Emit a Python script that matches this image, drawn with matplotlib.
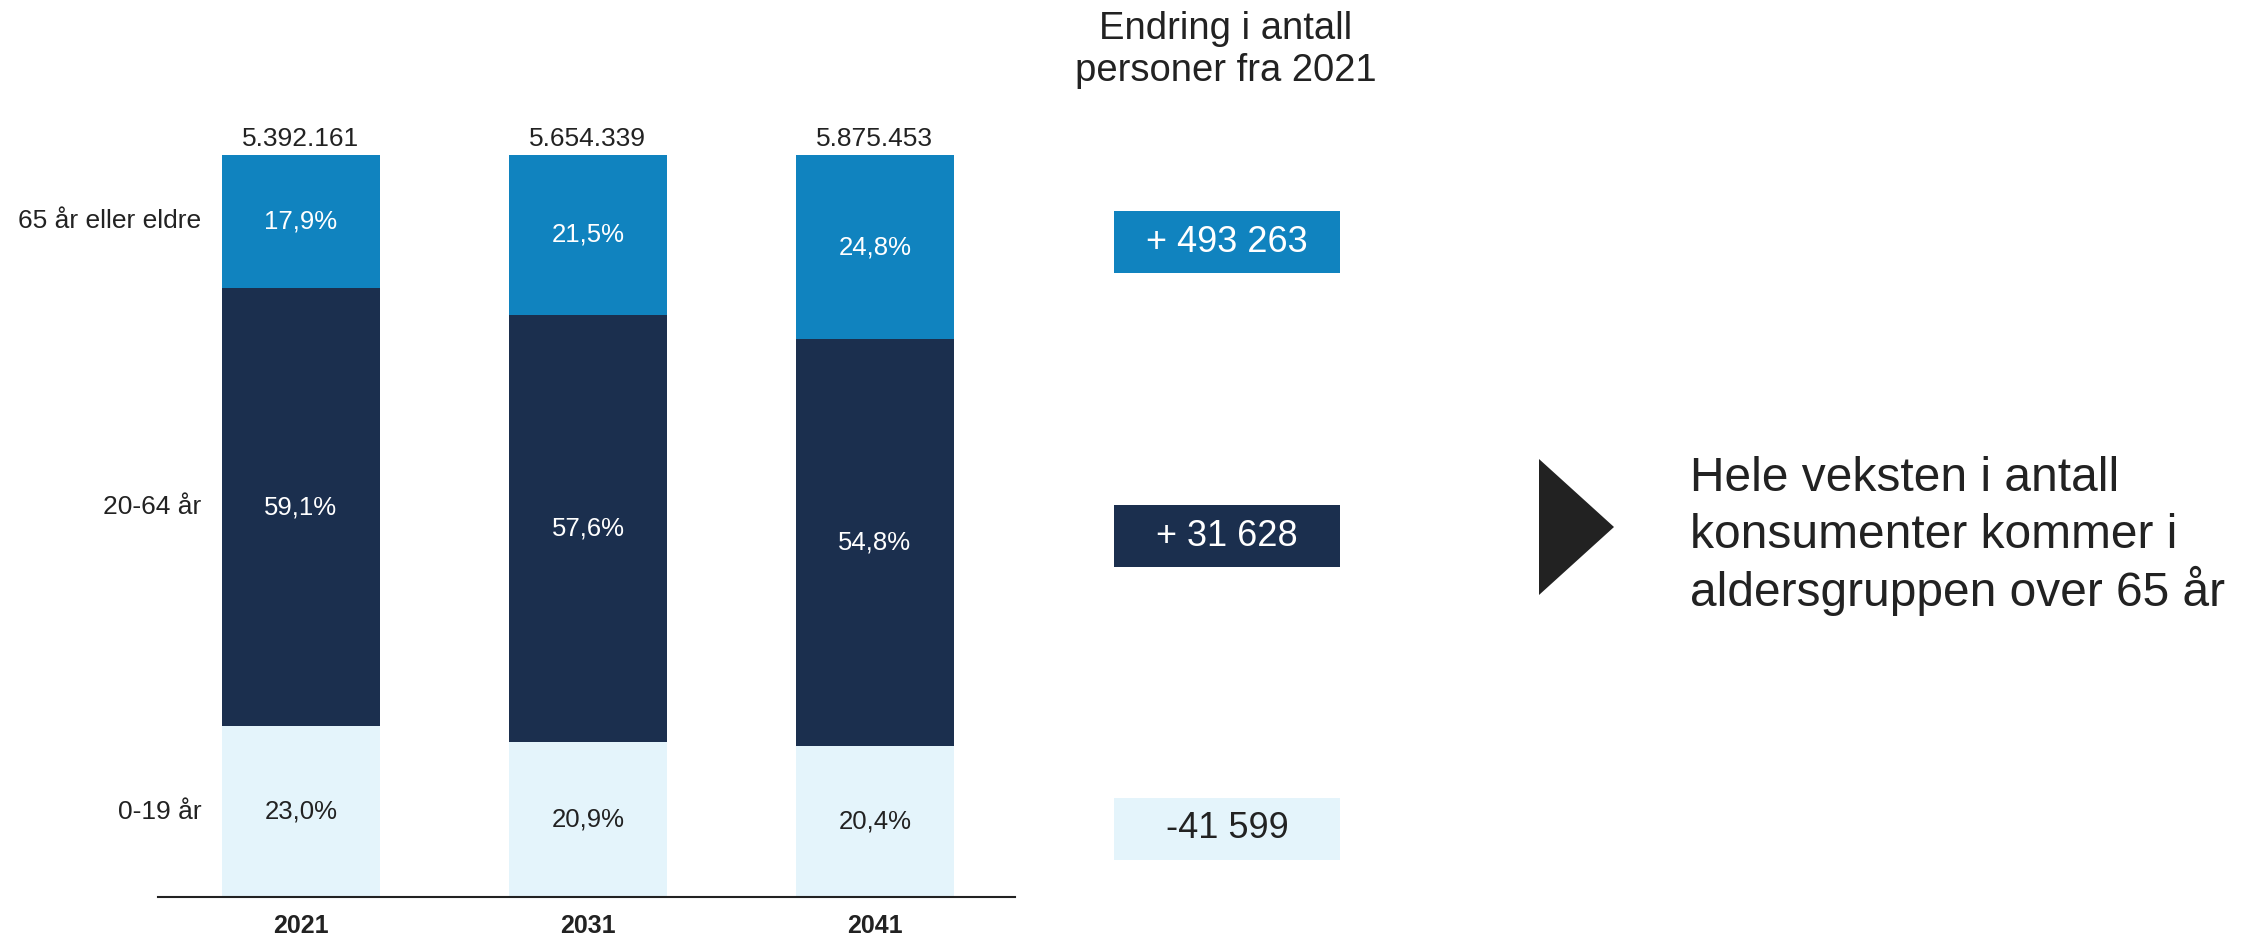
import matplotlib
matplotlib.use("Agg")
from matplotlib import pyplot as plt
from matplotlib.patches import Rectangle, Polygon

plt.rcParams['font.family'] = ['Liberation Sans', 'DejaVu Sans']

years = ['2021', '2031', '2041']
groups = ['0-19 år', '20-64 år', '65 år eller eldre']
young = [23.0, 20.9, 20.4]
middle = [59.1, 57.6, 54.8]
old = [17.9, 21.5, 24.8]
totals = ['5.392.161', '5.654.339', '5.875.453']
changes = [493263, 31628, -41599]   # 65+, 20-64, 0-19
message = ['Hele veksten i antall', 'konsumenter kommer i', 'aldersgruppen over 65 år']

c_old = '#1083bf'
c_mid = '#1b2f4e'
c_young = '#e4f4fb'
dark = '#222222'

W, H = 2249, 936
fig = plt.figure(figsize=(W / 100, H / 100), dpi=100)

# bar chart
ax = fig.add_axes([158 / W, 1 - 897 / H, (1015 - 158) / W, (897 - 155) / H])
x = list(range(len(years)))
bw = 0.55
series = [(young, c_young, dark), (middle, c_mid, 'white'), (old, c_old, 'white')]
bottom = [0, 0, 0]
for vals, col, tcol in series:
    ax.bar(x, vals, bw, bottom=bottom, color=col, edgecolor='none')
    for i, v in enumerate(vals):
        ax.text(x[i], bottom[i] + v / 2, f"{v:.1f}%".replace('.', ','),
                ha='center', va='center', color=tcol, fontsize=18.5)
    bottom = [b + v for b, v in zip(bottom, vals)]

# group labels next to first bar
b = 0
for g, vals in zip(groups, [young, middle, old]):
    ax.annotate(g, xy=(x[0] - bw / 2, b + vals[0] / 2), xytext=(-15, 0),
                textcoords='offset points', ha='right', va='center',
                fontsize=19, color=dark)
    b += vals[0]

for i, t in enumerate(totals):
    ax.annotate(t, xy=(x[i], bottom[i]), xytext=(0, 6.5), textcoords='offset points',
                ha='center', va='baseline', fontsize=19, color=dark)

ax.set_xlim(-0.498, 2.488)
ax.set_ylim(0, 100)
ax.set_xticks(x)
ax.set_xticklabels(years, fontsize=18, fontweight='bold', color=dark)
ax.tick_params(axis='x', length=0, pad=12)
ax.set_yticks([])
for s in ['top', 'right', 'left']:
    ax.spines[s].set_visible(False)
ax.spines['bottom'].set_color(dark)
ax.spines['bottom'].set_linewidth(1.5)

# right side panel in pixel coordinates
pan = fig.add_axes([0, 0, 1, 1])
pan.set_xlim(0, W)
pan.set_ylim(H, 0)
pan.axis('off')

pan.text(1226, 50, 'Endring i antall\npersoner fra 2021', ha='center', va='center',
         fontsize=27.5, color=dark, linespacing=1.22)

box_y = [242, 536, 829]
box_col = [c_old, c_mid, c_young]
box_txt = ['white', 'white', dark]
for v, cy, col, tc in zip(changes, box_y, box_col, box_txt):
    if v >= 0:
        lab = '+ ' + f"{v:,}".replace(',', ' ')
    else:
        lab = f"{v:,}".replace(',', ' ')
    pan.add_patch(Rectangle((1114, cy - 31), 226, 62, color=col, lw=0))
    pan.text(1227, cy, lab, ha='center', va='center', fontsize=26, color=tc)

pan.add_patch(Polygon([(1539, 459), (1614, 527), (1539, 595)], closed=True,
                      color=dark, lw=0))
for k, line in enumerate(message):
    pan.text(1690, 491 + 57.5 * k, line, ha='left', va='baseline',
             fontsize=34.5, color=dark)

fig.savefig('out.png', dpi=100)
